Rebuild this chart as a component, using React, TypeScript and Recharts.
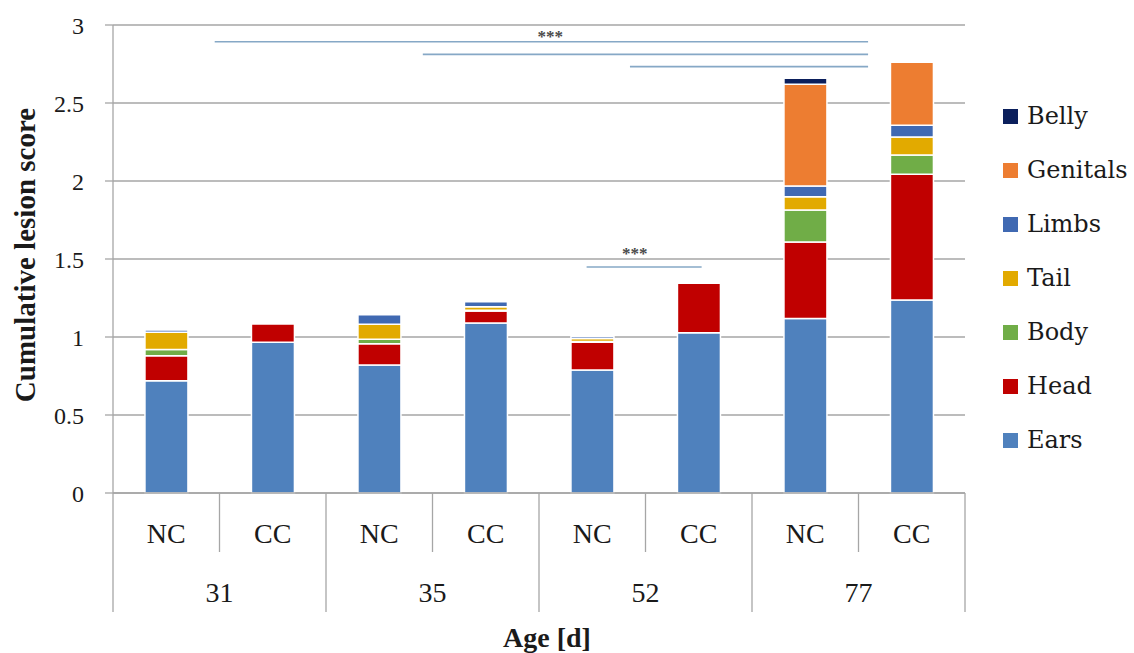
import React from 'react';
import { BarChart, Bar, XAxis, YAxis, CartesianGrid, ReferenceLine, ReferenceDot } from 'recharts';

const groups = ['NC', 'CC', 'NC', 'CC', 'NC', 'CC', 'NC', 'CC'];
const ages = ['31', '31', '35', '35', '52', '52', '77', '77'];

const ears = [0.72, 0.966, 0.82, 1.09, 0.788, 1.028, 1.119, 1.237];
const head = [0.16, 0.117, 0.137, 0.077, 0.178, 0.316, 0.49, 0.806];
const body = [0.04, 0, 0.028, 0.005, 0.005, 0, 0.205, 0.124];
const tail = [0.11, 0, 0.096, 0.022, 0.02, 0, 0.085, 0.115];
const limbs = [0.015, 0, 0.062, 0.032, 0.013, 0, 0.069, 0.075];
const genitals = [0, 0, 0, 0, 0, 0, 0.652, 0.404];
const belly = [0, 0, 0, 0, 0, 0, 0.038, 0];

const yTicks = [0, 0.5, 1, 1.5, 2, 2.5, 3];

// significance brackets, x in category units (0..8)
const sigStart = [0.955, 2.909, 4.854, 4.447];
const sigEnd = [7.09, 7.09, 7.09, 5.527];
const sigLevel = [2.893, 2.812, 2.733, 1.449];
const starX = [4.105, 4.9];
const starY = [2.932, 1.536];
const starText = ['***', '***'];

const series = [
  { key: 'ears', name: 'Ears', color: '#4f81bd', values: ears },
  { key: 'head', name: 'Head', color: '#c00000', values: head },
  { key: 'body', name: 'Body', color: '#70ad47', values: body },
  { key: 'tail', name: 'Tail', color: '#e2aa00', values: tail },
  { key: 'limbs', name: 'Limbs', color: '#4069b2', values: limbs },
  { key: 'genitals', name: 'Genitals', color: '#ed7d31', values: genitals },
  { key: 'belly', name: 'Belly', color: '#0b1f5c', values: belly },
];

const data = groups.map((g, i) => {
  const row: Record<string, string | number> = { id: `${ages[i]}-${g}`, pos: i + 0.5 };
  series.forEach((s) => {
    row[s.key] = s.values[i];
  });
  return row;
});

const W = 1134;
const H = 653;
const Y_AXIS_W = 113;
const X_AXIS_H = 120;
const MARGIN = { top: 25, right: 169, bottom: 40, left: 0 };
const PLOT_BOTTOM = H - MARGIN.bottom - X_AXIS_H;
const BAND = (W - MARGIN.right - Y_AXIS_W) / groups.length;
const GRID = '#a6a6a6';
const SERIF = '"Liberation Serif", "Times New Roman", serif';

function CategoryTick(props: any) {
  const { x, payload } = props;
  const i = props.index ?? payload.index;
  const half = BAND / 2;
  const odd = i % 2 === 1;
  return (
    <g>
      <text
        x={x}
        y={PLOT_BOTTOM + 40}
        textAnchor="middle"
        dominantBaseline="central"
        fontFamily={SERIF}
        fontSize={28}
        fill="#1a1a1a"
      >
        {groups[i]}
      </text>
      <line x1={x + half} x2={x + half} y1={PLOT_BOTTOM} y2={PLOT_BOTTOM + (odd ? 119 : 59)} stroke={GRID} strokeWidth={1.3} />
      {i === 0 && (
        <line x1={x - half} x2={x - half} y1={PLOT_BOTTOM} y2={PLOT_BOTTOM + 119} stroke={GRID} strokeWidth={1.3} />
      )}
      {odd && (
        <text
          x={x - half}
          y={PLOT_BOTTOM + 99}
          textAnchor="middle"
          dominantBaseline="central"
          fontFamily={SERIF}
          fontSize={28}
          fill="#1a1a1a"
        >
          {ages[i]}
        </text>
      )}
    </g>
  );
}

function renderYTitle(props: any) {
  const vb = props.viewBox;
  const cx = vb.x + 25;
  const cy = vb.y + vb.height / 2 - 4;
  return (
    <text
      x={cx}
      y={cy}
      transform={`rotate(-90, ${cx}, ${cy})`}
      textAnchor="middle"
      dominantBaseline="central"
      fontFamily={SERIF}
      fontWeight="bold"
      fontSize={29}
      fill="#1a1a1a"
    >
      Cumulative lesion score
    </text>
  );
}

function renderXTitle(props: any) {
  const vb = props.viewBox;
  return (
    <text
      x={vb.x + vb.width / 2 + 8}
      y={H - 16}
      textAnchor="middle"
      dominantBaseline="central"
      fontFamily={SERIF}
      fontWeight="bold"
      fontSize={28}
      fill="#1a1a1a"
    >
      Age [d]
    </text>
  );
}

function LegendBox() {
  const items = [...series].reverse();
  return (
    <div style={{ position: 'absolute', left: 1003, top: 89 }}>
      {items.map((s) => (
        <div
          key={s.key}
          style={{ display: 'flex', alignItems: 'center', height: 54, fontFamily: '"DejaVu Serif", serif', fontSize: 24, color: '#1a1a1a' }}
        >
          <span style={{ width: 15, height: 15, background: s.color, marginRight: 9, display: 'inline-block' }} />
          {s.name}
        </div>
      ))}
    </div>
  );
}

export default function App() {
  return (
    <div style={{ position: 'absolute', left: 0, top: 0, width: W, height: H, background: '#fff' }}>
      <BarChart width={W} height={H} data={data} margin={MARGIN} barCategoryGap="30%">
        <CartesianGrid vertical={false} stroke={GRID} strokeWidth={1.3} />
        <XAxis
          dataKey="id"
          height={X_AXIS_H}
          interval={0}
          tickLine={false}
          axisLine={{ stroke: GRID, strokeWidth: 1.3 }}
          tick={<CategoryTick />}
          label={{ content: renderXTitle }}
        />
        <XAxis xAxisId="sig" dataKey="pos" type="number" domain={[0, 8]} allowDataOverflow hide />
        <YAxis
          width={Y_AXIS_W}
          domain={[0, 3]}
          ticks={yTicks}
          tickSize={8}
          tickMargin={21}
          axisLine={{ stroke: GRID, strokeWidth: 1.3 }}
          tickLine={{ stroke: GRID, strokeWidth: 1.3 }}
          tick={{ fontFamily: SERIF, fontSize: 24, fill: '#1a1a1a' }}
          label={{ content: renderYTitle }}
        />
        {series.map((s) => (
          <Bar
            key={s.key}
            dataKey={s.key}
            name={s.name}
            stackId="a"
            fill={s.color}
            stroke="#ffffff"
            strokeWidth={1.5}
            isAnimationActive={false}
          />
        ))}
        {sigLevel.map((lv, i) => (
          <ReferenceLine
            key={`sig-${i}`}
            xAxisId="sig"
            segment={[{ x: sigStart[i], y: lv }, { x: sigEnd[i], y: lv }]}
            stroke="#86a8c6"
            strokeWidth={1.6}
            ifOverflow="visible"
          />
        ))}
        {starX.map((sx, i) => (
          <ReferenceDot
            key={`star-${i}`}
            xAxisId="sig"
            x={sx}
            y={starY[i]}
            r={0}
            fill="none"
            stroke="none"
            ifOverflow="visible"
            label={{ value: starText[i], position: 'center', fontFamily: SERIF, fontWeight: 'bold', fontSize: 17, fill: '#4a4a4a' }}
          />
        ))}
      </BarChart>
      <LegendBox />
    </div>
  );
}
